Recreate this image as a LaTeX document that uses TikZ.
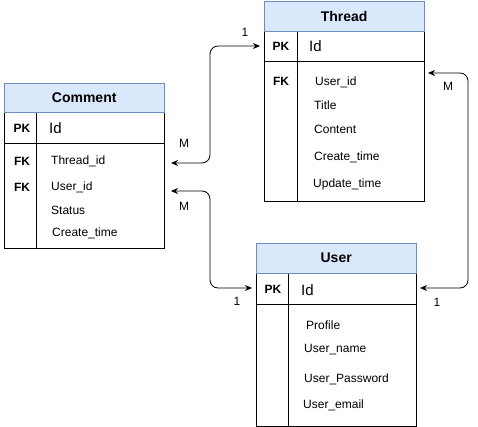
\documentclass[tikz,border=0pt]{standalone}
\usepackage{fontspec}
\setmainfont{Liberation Sans}
\usetikzlibrary{positioning,arrows.meta}
\definecolor{headfill}{HTML}{DAE8FC}
\definecolor{headline}{HTML}{6C8EBF}

\tikzset{
  head/.style={draw=headline, fill=headfill, minimum width=160pt, minimum height=30pt,
    inner sep=0pt, anchor=north west, font=\fontsize{14}{16}\selectfont\bfseries},
  key/.style={font=\fontsize{12}{14}\selectfont\bfseries, inner sep=0pt},
  pkname/.style={font=\fontsize{15}{17}\selectfont, anchor=west, inner sep=0pt},
  field/.style={font=\fontsize{12}{14}\selectfont, anchor=west, inner sep=0pt,
    text height=9pt, text depth=3pt, yshift=-1.5pt},
  card/.style={font=\fontsize{12}{14}\selectfont, inner sep=0pt},
  rel/.style={{Stealth[length=7pt,width=6pt]}-{Stealth[length=7pt,width=6pt]}, rounded corners=8pt, line width=0.8pt}
}

\begin{document}
\begin{tikzpicture}[x=1pt,y=-1pt]
\useasboundingbox (0,0) rectangle (478,427);

% Comment
\draw[line width=0.8pt] (4,112) rectangle (164,248);
\draw[line width=0.8pt] (4,143) -- (164,143);
\draw[line width=0.8pt] (36,112) -- (36,248);
\node[head, minimum height=29pt] (comment) at (4,83) {Comment};
\node[key] at (22,128) {PK};
\node[pkname] at (49,128) {Id};
\node[key] at (22,161) {FK};
\node[field] (cmt-thread) at (51,160) {Thread\_id};
\node[key] at (22,187) {FK};
\node[field] (cmt-user) at (51,186) {User\_id};
\node[field] at (51,210) {Status};
\node[field] at (52,232) {Create\_time};

% Thread
\draw[line width=0.8pt] (264,31) rectangle (424,201);
\draw[line width=0.8pt] (264,61) -- (424,61);
\draw[line width=0.8pt] (297,31) -- (297,201);
\node[head] (thread) at (264,1) {Thread};
\node[key] at (281,46) {PK};
\node[pkname] at (309,46) {Id};
\node[key] at (281,81) {FK};
\node[field] at (315,81) {User\_id};
\node[field] at (314,105) {Title};
\node[field] at (314,129) {Content};
\node[field] at (314,156) {Create\_time};
\node[field] at (313,183) {Update\_time};

% User
\draw[line width=0.8pt] (256,273) rectangle (416,426);
\draw[line width=0.8pt] (256,304) -- (416,304);
\draw[line width=0.8pt] (288,273) -- (288,426);
\node[head] (user) at (256,243) {User};
\node[key] at (273,289) {PK};
\node[pkname] at (301,290) {Id};
\node[field] at (306,325) {Profile};
\node[field] at (304,348) {User\_name};
\node[field] at (304,378) {User\_Password};
\node[field] at (303,404) {User\_email};

% relations
\coordinate (c-thr) at (171,163);
\coordinate (c-usr) at (171,191);
\coordinate (t-pk) at (260,46);
\coordinate (t-usr) at (428,73);
\coordinate (u-pk-l) at (252,288);
\coordinate (u-pk-r) at (420,288);
\coordinate (bend1) at (210,100);
\coordinate (bend2) at (210,240);
\coordinate (bend3) at (468,180);

\draw[rel] (c-thr) -| (bend1) |- (t-pk);
\draw[rel] (c-usr) -| (bend2) |- (u-pk-l);
\draw[rel] (t-usr) -| (bend3) |- (u-pk-r);

\node[card] at (245,32) {1};
\node[card] at (184,143) {M};
\node[card] at (184,206) {M};
\node[card] at (237,301) {1};
\node[card] at (448,86) {M};
\node[card] at (437,302) {1};
\end{tikzpicture}
\end{document}
